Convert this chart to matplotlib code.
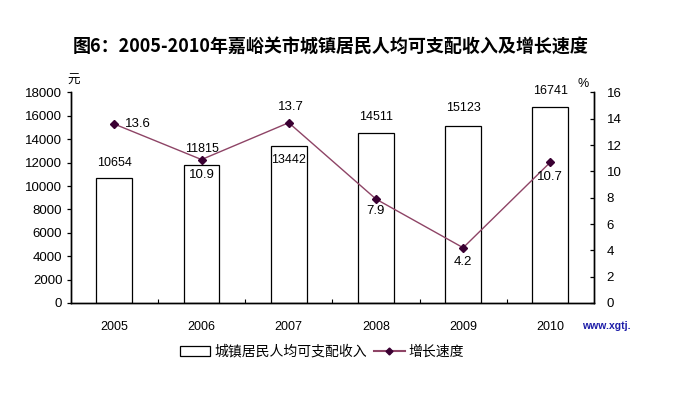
"""嘉峪关市城镇居民人均可支配收入及增长速度 (2005-2010)."""

import matplotlib

matplotlib.use("Agg")
import matplotlib.pyplot as plt
import numpy as np
from matplotlib.patches import Patch
from matplotlib.lines import Line2D

plt.rcParams["font.family"] = ["Liberation Sans", "Noto Sans CJK SC", "DejaVu Sans"]

YEARS = ["2005", "2006", "2007", "2008", "2009", "2010"]
INCOME = [10654, 11815, 13442, 14511, 15123, 16741]
GROWTH = [13.6, 10.9, 13.7, 7.9, 4.2, 10.7]

CJK = ["Noto Sans CJK SC", "DejaVu Sans"]
LINE_COLOUR = "#8E4466"
MARKER_COLOUR = "#3A0032"

# label offsets in pixels (x, y-up), tuned by eye
BAR_LABEL_DY = [15, 16, -14, 16, 18, 16]
LINE_LABEL_OFFSETS = [(24, 0), (0, -15), (2, 16), (0, -12), (0, -14), (0, -15)]

fig = plt.figure(figsize=(6.81, 3.98), dpi=100)
fig.patch.set_facecolor("white")
ax = fig.add_axes([0.1038, 0.2387, 0.7684, 0.529])
ax2 = ax.twinx()

x = np.arange(len(YEARS))
bars = ax.bar(x, INCOME, width=0.41, color="white", edgecolor="black", linewidth=0.9, zorder=2)
ax.set_xlim(-0.5, len(YEARS) - 0.5)
ax.set_ylim(0, 18000)
ax.set_yticks(range(0, 18001, 2000))
ax.set_xticks(x, YEARS)
ax.set_xticks(np.arange(0.5, len(YEARS) - 0.5), minor=True)
ax.tick_params(axis="x", which="major", length=0, pad=13, labelsize=9)
ax.tick_params(axis="x", which="minor", direction="in", length=3, width=0.8)
ax.tick_params(axis="y", direction="out", length=3, width=0.9, pad=3, labelsize=9.5)

for xi, value, dy in zip(x, INCOME, BAR_LABEL_DY):
    ax.annotate(str(value), (xi, value), xytext=(0, dy), textcoords="offset pixels",
                ha="center", va="center", fontsize=9, zorder=5)

ax2.plot(x, GROWTH, color=LINE_COLOUR, linewidth=1.0, marker="D", markersize=4,
         markerfacecolor=MARKER_COLOUR, markeredgecolor=MARKER_COLOUR, zorder=4)
ax2.set_ylim(0, 16)
ax2.set_yticks(range(0, 17, 2))
ax2.tick_params(axis="y", direction="in", length=3, width=0.9, pad=9, labelsize=9.5)

for xi, value, (dx, dy) in zip(x, GROWTH, LINE_LABEL_OFFSETS):
    ax2.annotate(f"{value:.1f}", (xi, value), xytext=(dx, dy), textcoords="offset pixels",
                 ha="center", va="center", fontsize=9.5, zorder=6)

for axis in (ax, ax2):
    axis.spines["top"].set_visible(False)
    for side in ("left", "right", "bottom"):
        axis.spines[side].set_linewidth(1.0)

ax.text(0.005, 1.025, "元", transform=ax.transAxes, family=CJK, fontsize=9, ha="center", va="bottom")
ax.text(0.99, 1.01, "%", transform=ax.transAxes, fontsize=9, ha="right", va="bottom")

fig.text(0.485, 0.882, "图6：2005-2010年嘉峪关市城镇居民人均可支配收入及增长速度",
         family=CJK, fontsize=13, fontweight="bold", ha="center", va="center")

fig.text(0.89, 0.181, "www.xgtj.", color="#1C1CA8", fontsize=7.5, fontweight="bold",
         ha="center", va="center")

handles = [
    Patch(facecolor="white", edgecolor="black", linewidth=0.9, label="城镇居民人均可支配收入"),
    Line2D([], [], color=LINE_COLOUR, marker="D", markersize=3.5, markerfacecolor=MARKER_COLOUR,
           markeredgecolor=MARKER_COLOUR, label="增长速度"),
]
fig.legend(handles=handles, loc="center", bbox_to_anchor=(0.473, 0.116), ncol=2, frameon=False,
           prop={"family": CJK, "size": 10}, handlelength=2.2, handletextpad=0.3, columnspacing=0.5)

fig.savefig("out.png", dpi=100, facecolor="white")
